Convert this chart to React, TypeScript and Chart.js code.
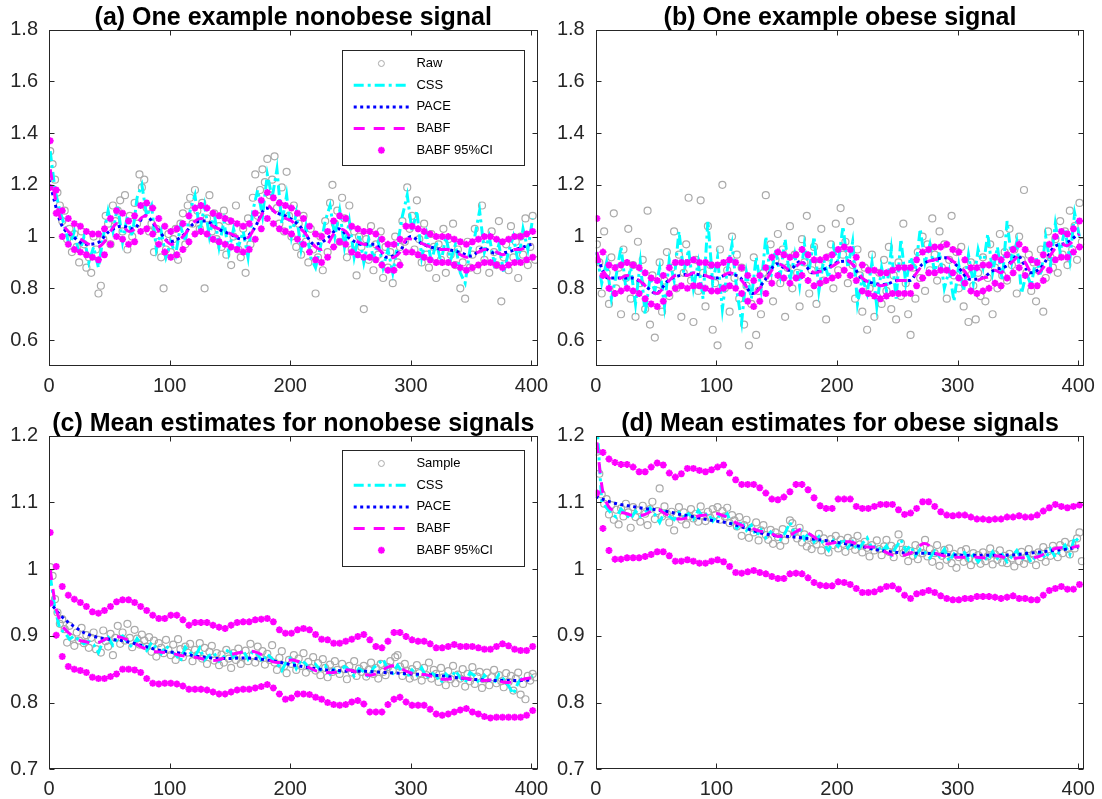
import React, { useEffect, useRef } from "react";
import { Chart, registerables } from "chart.js";

Chart.register(...registerables);

const FONT = '"Liberation Sans", Arial, Helvetica, sans-serif';
const MAG = "#ff00ff";
const CYAN = "#00ffff";
const BLUE = "#0000ff";
const GRAY = "#aaaaaa";
const AXIS = "#262626";

const X_TICKS = [0, 100, 200, 300, 400];
const Y_TICKS_TOP = [0.6, 0.8, 1.0, 1.2, 1.4, 1.6, 1.8];
const Y_TICKS_BOTTOM = [0.7, 0.8, 0.9, 1.0, 1.1, 1.2];

// sample positions (time index)
const rawX = Array.from({ length: 202 }, (_, i) => 1 + 2 * i);
const cssX = Array.from({ length: 101 }, (_, i) => 1 + 4 * i);
const babfX = Array.from({ length: 81 }, (_, i) => 1 + 5 * i);
const paceX = Array.from({ length: 41 }, (_, i) => 10 * i);

// ---------- (a) nonobese example signal ----------
const aRaw = [
  1.33, 1.28, 1.22, 1.17, 1.12, 1.06, 1.10, 0.99, 1.03, 0.94,
  1.01, 0.96, 0.90, 1.02, 0.97, 0.88, 0.92, 0.86, 1.00, 0.95,
  0.78, 0.81, 0.99, 1.08, 1.05, 0.97, 1.12, 1.06, 1.10, 1.14,
  1.02, 1.16, 0.95, 1.08, 1.00, 1.13, 1.05, 1.24, 1.19, 1.22,
  1.11, 1.02, 1.05, 0.94, 1.03, 0.98, 0.92, 0.80, 0.95, 1.01,
  0.94, 0.99, 1.03, 0.91, 1.05, 1.09, 0.97, 1.12, 1.15, 1.05,
  1.18, 1.10, 1.03, 1.13, 0.80, 1.07, 1.16, 1.02, 1.09, 0.99,
  1.04, 0.96, 1.10, 0.93, 1.06, 0.89, 1.00, 1.12, 0.95, 0.92,
  1.03, 0.86, 1.07, 0.97, 1.15, 1.24, 1.08, 1.18, 1.26, 1.21,
  1.30, 1.16, 1.22, 1.31, 1.11, 1.05, 1.19, 1.02, 1.25, 1.08,
  1.00, 1.12, 0.96, 1.05, 0.93, 1.08, 0.98, 0.90, 1.03, 0.95,
  0.78, 0.92, 1.00, 0.87, 1.06, 0.94, 1.13, 1.20, 1.05, 1.10,
  0.98, 1.15, 1.07, 0.92, 1.12, 0.95, 1.02, 0.85, 1.00, 0.96,
  0.72, 0.99, 0.91, 1.04, 0.87, 0.97, 0.93, 1.02, 0.84, 0.96,
  0.88, 0.94, 0.82, 1.00, 0.90, 0.96, 1.06, 0.98, 1.19, 1.03,
  1.08, 0.95, 1.14, 0.99, 0.90, 1.05, 0.93, 0.88, 1.01, 0.96,
  0.84, 0.97, 0.91, 1.03, 0.86, 0.99, 0.93, 1.05, 0.89, 0.95,
  0.80, 0.90, 0.76, 0.98, 0.88, 0.93, 1.03, 0.87, 0.95, 1.12,
  0.91, 0.99, 0.86, 1.02, 0.94, 0.89, 1.06, 0.75, 0.92, 0.97,
  0.87, 1.04, 0.92, 0.98, 0.84, 1.00, 0.93, 1.07, 0.89, 0.96,
  1.08, 0.91,
];
const aCss = [
  1.33, 1.18, 1.10, 1.04, 0.96, 1.02, 0.93, 1.00, 0.90, 0.96,
  0.88, 1.00, 1.10, 1.02, 1.12, 0.98, 1.08, 1.00, 1.15, 1.20,
  1.08, 1.12, 0.95, 1.02, 0.92, 0.98, 0.93, 1.04, 0.98, 1.10,
  1.16, 1.02, 1.12, 1.00, 1.09, 0.96, 1.06, 0.94, 1.03, 0.96,
  1.02, 0.92, 1.10, 1.18, 1.08, 1.24, 1.15, 1.26, 1.05, 1.16,
  1.00, 1.09, 0.95, 1.04, 0.92, 0.88, 0.96, 1.06, 1.12, 1.00,
  1.10, 0.96, 1.06, 0.92, 1.01, 0.90, 0.99, 0.92, 0.98, 0.88,
  0.95, 0.86, 0.97, 1.08, 1.16, 1.02, 1.10, 0.92, 1.01, 0.90,
  0.98, 0.90, 1.00, 0.91, 0.97, 0.86, 0.82, 0.95, 1.00, 1.10,
  0.94, 1.00, 0.90, 0.97, 0.86, 0.94, 1.00, 0.90, 1.03, 0.95,
  1.07,
];
const aBabf = [
  1.26, 1.13, 1.05, 1.02, 1.00, 0.99, 0.975, 0.965, 0.96, 0.98,
  1.02, 1.05, 1.04, 1.02, 1.03, 1.07, 1.08, 1.06, 1.02, 0.99,
  0.97, 0.98, 1.00, 1.03, 1.06, 1.07, 1.06, 1.04, 1.03, 1.02,
  1.01, 1.00, 0.99, 1.00, 1.04, 1.08, 1.12, 1.10, 1.08, 1.07,
  1.06, 1.04, 1.02, 0.99, 0.96, 0.95, 0.97, 1.01, 1.03, 1.02,
  0.99, 0.98, 0.97, 0.97, 0.96, 0.94, 0.92, 0.92, 0.94, 0.99,
  0.99, 0.98, 0.97, 0.96, 0.95, 0.95, 0.95, 0.94, 0.93, 0.92,
  0.93, 0.94, 0.95, 0.95, 0.94, 0.93, 0.94, 0.95, 0.95, 0.96,
  0.97,
];
const aCiUp = [
  1.37, 1.18, 1.10, 1.07, 1.05, 1.04, 1.02, 1.01, 1.01, 1.03,
  1.07, 1.10, 1.09, 1.06, 1.08, 1.12, 1.13, 1.11, 1.07, 1.04,
  1.02, 1.03, 1.05, 1.08, 1.11, 1.12, 1.11, 1.09, 1.08, 1.07,
  1.06, 1.05, 1.04, 1.05, 1.09, 1.14, 1.17, 1.15, 1.13, 1.12,
  1.11, 1.09, 1.07, 1.04, 1.01, 1.00, 1.02, 1.06, 1.08, 1.07,
  1.04, 1.03, 1.02, 1.02, 1.01, 0.99, 0.97, 0.97, 0.99, 1.04,
  1.04, 1.03, 1.02, 1.01, 1.00, 1.00, 1.00, 0.99, 0.98, 0.97,
  0.98, 0.99, 1.00, 1.00, 0.99, 0.98, 0.99, 1.00, 1.00, 1.01,
  1.02,
];
const aCiLo = [
  1.19, 1.09, 1.00, 0.97, 0.95, 0.94, 0.93, 0.92, 0.91, 0.93,
  0.97, 1.00, 0.99, 0.97, 0.98, 1.02, 1.03, 1.01, 0.97, 0.94,
  0.92, 0.93, 0.95, 0.98, 1.01, 1.02, 1.01, 0.99, 0.98, 0.97,
  0.96, 0.95, 0.94, 0.95, 0.99, 1.03, 1.07, 1.05, 1.03, 1.02,
  1.01, 0.99, 0.97, 0.94, 0.91, 0.90, 0.92, 0.96, 0.98, 0.97,
  0.94, 0.93, 0.92, 0.92, 0.91, 0.89, 0.87, 0.87, 0.89, 0.94,
  0.94, 0.93, 0.92, 0.91, 0.90, 0.90, 0.90, 0.89, 0.88, 0.87,
  0.88, 0.89, 0.90, 0.90, 0.89, 0.88, 0.89, 0.90, 0.90, 0.91,
  0.92,
];
const aPace = [
  1.22, 1.05, 1.00, 0.97, 0.975, 1.02, 1.04, 1.03, 1.08, 1.03,
  0.98, 1.00, 1.05, 1.06, 1.03, 1.01, 0.99, 1.03, 1.11, 1.09,
  1.07, 1.03, 0.97, 0.99, 1.03, 0.99, 0.97, 0.97, 0.92, 0.94,
  1.00, 0.97, 0.955, 0.95, 0.94, 0.925, 0.955, 0.935, 0.94, 0.955,
  0.97,
];

// ---------- (b) obese example signal ----------
const bRaw = [
  0.97, 0.90, 0.78, 1.02, 0.86, 0.74, 0.92, 1.09, 0.80, 0.88,
  0.70, 0.95, 0.84, 1.03, 0.76, 0.89, 0.69, 0.98, 0.82, 0.91,
  0.72, 1.10, 0.66, 0.85, 0.61, 0.79, 0.90, 0.71, 0.83, 0.94,
  0.77, 0.88, 1.02, 0.80, 0.93, 0.69, 0.86, 0.97, 1.15, 0.83,
  0.67, 0.91, 0.79, 1.14, 0.86, 0.73, 1.04, 0.89, 0.64, 0.82,
  0.58, 0.95, 1.20, 0.80, 0.87, 0.71, 1.00, 0.84, 0.93, 0.76,
  0.88, 0.66, 0.81, 0.58, 0.74, 0.92, 0.62, 0.79, 0.70, 0.86,
  1.16, 0.84, 0.97, 0.75, 0.91, 1.01, 0.82, 0.95, 0.69, 0.88,
  1.04, 0.80, 0.93, 0.86, 0.73, 0.99, 0.90, 1.08, 0.78, 0.87,
  0.96, 0.74, 0.89, 1.03, 0.83, 0.68, 0.92, 0.97, 0.80, 1.05,
  0.87, 1.11, 0.93, 0.98, 0.82, 1.06, 0.89, 0.76, 0.95, 0.85,
  0.71, 0.88, 0.64, 0.80, 0.93, 0.69, 0.77, 0.86, 0.74, 0.91,
  0.79, 0.96, 0.72, 0.85, 0.68, 0.90, 0.77, 1.05, 0.82, 0.70,
  0.62, 0.88, 0.76, 0.94, 0.84, 1.00, 0.79, 0.97, 0.87, 1.07,
  0.93, 0.83, 1.02, 0.88, 0.97, 0.76, 0.91, 1.08, 0.85, 0.94,
  0.80, 0.96, 0.73, 0.87, 0.67, 0.90, 0.81, 0.68, 0.86, 0.77,
  0.92, 0.75, 0.84, 0.97, 0.70, 0.88, 0.80, 1.01, 0.85, 0.94,
  0.83, 1.03, 0.89, 0.95, 0.78, 1.00, 0.91, 1.18, 0.86, 0.93,
  0.79, 0.90, 0.75, 0.87, 0.95, 0.71, 0.84, 1.02, 0.92, 0.88,
  0.99, 0.86, 1.06, 0.93, 1.02, 0.89, 1.10, 0.95, 1.04, 0.91,
  1.13, 0.98,
];
const bCss = [
  0.93, 0.82, 0.90, 0.76, 0.85, 0.96, 0.80, 0.88, 0.74, 0.90,
  0.70, 0.84, 0.79, 0.88, 0.73, 0.91, 0.83, 1.02, 0.86, 0.95,
  0.80, 0.90, 0.76, 1.06, 0.82, 0.92, 0.72, 0.87, 0.97, 0.79,
  0.67, 0.86, 0.76, 0.92, 0.80, 1.00, 0.84, 0.95, 0.85, 0.99,
  0.83, 0.93, 0.81, 0.97, 0.87, 1.00, 0.79, 0.91, 0.84, 0.96,
  0.90, 1.04, 0.88, 0.98, 0.74, 0.84, 0.78, 0.90, 0.73, 0.88,
  0.79, 0.95, 0.76, 0.99, 0.82, 0.92, 0.87, 1.03, 0.90, 0.97,
  0.86, 0.94, 0.80, 0.87, 0.75, 0.89, 0.79, 0.93, 0.82, 0.95,
  0.88, 1.01, 0.86, 0.96, 0.83, 1.06, 0.90, 0.98, 0.78, 0.86,
  0.81, 0.92, 0.85, 1.00, 0.89, 1.05, 0.94, 1.03, 0.91, 1.09,
  1.00,
];
const bBabf = [
  0.94, 0.87, 0.84, 0.83, 0.84, 0.85, 0.84, 0.83, 0.81, 0.79,
  0.78, 0.80, 0.83, 0.85, 0.855, 0.85, 0.86, 0.855, 0.85, 0.84,
  0.84, 0.85, 0.86, 0.85, 0.83, 0.80, 0.78, 0.80, 0.83, 0.87,
  0.895, 0.885, 0.87, 0.885, 0.90, 0.88, 0.86, 0.865, 0.875, 0.885,
  0.90, 0.915, 0.90, 0.875, 0.84, 0.825, 0.82, 0.81, 0.815, 0.825,
  0.83, 0.83, 0.83, 0.86, 0.89, 0.905, 0.91, 0.915, 0.92, 0.905,
  0.89, 0.865, 0.835, 0.83, 0.84, 0.845, 0.87, 0.86, 0.885, 0.905,
  0.925, 0.90, 0.86, 0.855, 0.88, 0.92, 0.955, 0.97, 0.965, 0.985,
  1.01,
];
const bCiUp = [
  1.07, 0.94, 0.89, 0.88, 0.89, 0.90, 0.89, 0.88, 0.86, 0.84,
  0.83, 0.85, 0.88, 0.90, 0.90, 0.90, 0.91, 0.90, 0.90, 0.89,
  0.89, 0.90, 0.91, 0.90, 0.88, 0.85, 0.83, 0.85, 0.88, 0.92,
  0.94, 0.93, 0.92, 0.93, 0.95, 0.93, 0.91, 0.91, 0.92, 0.93,
  0.95, 0.96, 0.95, 0.92, 0.89, 0.87, 0.87, 0.86, 0.86, 0.87,
  0.88, 0.88, 0.88, 0.91, 0.94, 0.95, 0.96, 0.96, 0.97, 0.95,
  0.94, 0.91, 0.88, 0.88, 0.89, 0.89, 0.92, 0.91, 0.93, 0.95,
  0.97, 0.95, 0.91, 0.90, 0.93, 0.97, 1.00, 1.02, 1.01, 1.03,
  1.06,
];
const bCiLo = [
  0.91, 0.85, 0.80, 0.78, 0.79, 0.80, 0.79, 0.78, 0.76, 0.74,
  0.73, 0.75, 0.78, 0.80, 0.81, 0.80, 0.81, 0.81, 0.80, 0.79,
  0.79, 0.80, 0.81, 0.80, 0.78, 0.75, 0.73, 0.75, 0.78, 0.82,
  0.85, 0.84, 0.82, 0.84, 0.85, 0.83, 0.81, 0.82, 0.83, 0.84,
  0.85, 0.87, 0.85, 0.83, 0.79, 0.78, 0.77, 0.76, 0.77, 0.78,
  0.78, 0.78, 0.78, 0.81, 0.84, 0.86, 0.86, 0.87, 0.87, 0.86,
  0.84, 0.82, 0.79, 0.78, 0.79, 0.80, 0.82, 0.81, 0.84, 0.86,
  0.88, 0.85, 0.81, 0.81, 0.83, 0.87, 0.91, 0.92, 0.92, 0.94,
  0.96,
];
const bPace = [
  0.94, 0.84, 0.84, 0.84, 0.815, 0.78, 0.83, 0.85, 0.855, 0.85,
  0.84, 0.855, 0.84, 0.78, 0.83, 0.895, 0.87, 0.905, 0.86, 0.875,
  0.90, 0.905, 0.84, 0.82, 0.815, 0.83, 0.83, 0.89, 0.91, 0.918,
  0.885, 0.835, 0.84, 0.87, 0.885, 0.925, 0.86, 0.885, 0.96, 0.975,
  1.01,
];

// ---------- (c) mean estimates, nonobese ----------
const cRaw = [
  1.003, 0.99, 0.955, 0.935, 0.918, 0.925, 0.91, 0.89, 0.915, 0.897,
  0.885, 0.905, 0.893, 0.912, 0.889, 0.901, 0.882, 0.897, 0.905, 0.88,
  0.894, 0.875, 0.908, 0.892, 0.884, 0.903, 0.871, 0.897, 0.915, 0.888,
  0.905, 0.893, 0.918, 0.897, 0.883, 0.909, 0.896, 0.887, 0.902, 0.893,
  0.884, 0.898, 0.876, 0.893, 0.869, 0.889, 0.882, 0.874, 0.894, 0.879,
  0.871, 0.887, 0.864, 0.895, 0.88, 0.868, 0.884, 0.875, 0.888, 0.862,
  0.879, 0.871, 0.889, 0.866, 0.882, 0.858, 0.876, 0.885, 0.863, 0.874,
  0.856, 0.872, 0.86, 0.879, 0.866, 0.852, 0.874, 0.864, 0.881, 0.858,
  0.869, 0.878, 0.862, 0.888, 0.871, 0.86, 0.884, 0.867, 0.877, 0.857,
  0.873, 0.864, 0.886, 0.86, 0.849, 0.867, 0.877, 0.855, 0.844, 0.864,
  0.858, 0.871, 0.849, 0.866, 0.855, 0.874, 0.845, 0.861, 0.852, 0.868,
  0.848, 0.859, 0.841, 0.865, 0.852, 0.838, 0.857, 0.846, 0.862, 0.849,
  0.843, 0.858, 0.85, 0.835, 0.855, 0.845, 0.862, 0.84, 0.851, 0.846,
  0.855, 0.839, 0.849, 0.86, 0.843, 0.852, 0.836, 0.858, 0.846, 0.841,
  0.853, 0.862, 0.848, 0.868, 0.871, 0.854, 0.84, 0.858, 0.847, 0.836,
  0.85, 0.839, 0.856, 0.844, 0.833, 0.852, 0.841, 0.86, 0.836, 0.849,
  0.843, 0.831, 0.852, 0.838, 0.826, 0.847, 0.835, 0.855, 0.829, 0.842,
  0.836, 0.85, 0.824, 0.843, 0.832, 0.853, 0.828, 0.839, 0.846, 0.822,
  0.835, 0.845, 0.826, 0.838, 0.849, 0.829, 0.841, 0.832, 0.823, 0.844,
  0.831, 0.84, 0.818, 0.836, 0.845, 0.812, 0.828, 0.805, 0.84, 0.833,
  0.843, 0.838,
];
const cCss = [
  0.99, 0.94, 0.91, 0.905, 0.895, 0.90, 0.893, 0.888, 0.892, 0.887,
  0.875, 0.893, 0.898, 0.886, 0.896, 0.90, 0.89, 0.883, 0.896, 0.886,
  0.878, 0.89, 0.882, 0.873, 0.885, 0.877, 0.872, 0.862, 0.883, 0.875,
  0.869, 0.882, 0.864, 0.871, 0.874, 0.862, 0.869, 0.881, 0.868, 0.873,
  0.878, 0.865, 0.877, 0.872, 0.861, 0.873, 0.865, 0.859, 0.848, 0.862,
  0.868, 0.851, 0.864, 0.858, 0.846, 0.857, 0.849, 0.855, 0.843, 0.852,
  0.846, 0.854, 0.849, 0.84, 0.851, 0.846, 0.838, 0.852, 0.858, 0.865,
  0.85, 0.844, 0.856, 0.846, 0.838, 0.849, 0.841, 0.852, 0.837, 0.845,
  0.84, 0.83, 0.843, 0.836, 0.848, 0.837, 0.83, 0.845, 0.84, 0.828,
  0.841, 0.834, 0.829, 0.842, 0.835, 0.825, 0.813, 0.83, 0.838, 0.835,
  0.84,
];
const cBabf = [
  1.00, 0.94, 0.915, 0.905, 0.898, 0.893, 0.891, 0.889, 0.89, 0.894,
  0.898, 0.899, 0.897, 0.893, 0.889, 0.884, 0.88, 0.877, 0.876, 0.875,
  0.874, 0.872, 0.87, 0.869, 0.868, 0.866, 0.864, 0.863, 0.864, 0.868,
  0.872, 0.874, 0.876, 0.877, 0.876, 0.872, 0.866, 0.861, 0.86, 0.862,
  0.864, 0.862, 0.858, 0.852, 0.848, 0.846, 0.845, 0.845, 0.847, 0.849,
  0.848, 0.845, 0.842, 0.841, 0.843, 0.848, 0.853, 0.855, 0.852, 0.847,
  0.844, 0.843, 0.842, 0.84, 0.837, 0.835, 0.835, 0.836, 0.837, 0.836,
  0.834, 0.833, 0.833, 0.834, 0.833, 0.831, 0.83, 0.832, 0.834, 0.836,
  0.837,
];
const cCiUp = [
  1.055, 1.004, 0.974, 0.961, 0.955, 0.95, 0.944, 0.936, 0.934, 0.938,
  0.944, 0.951, 0.954, 0.954, 0.95, 0.944, 0.938, 0.931, 0.926, 0.926,
  0.931, 0.931, 0.924, 0.916, 0.92, 0.92, 0.92, 0.916, 0.913, 0.911,
  0.916, 0.92, 0.921, 0.921, 0.924, 0.925, 0.926, 0.921, 0.909, 0.904,
  0.904, 0.909, 0.911, 0.909, 0.902, 0.895, 0.894, 0.889, 0.889, 0.892,
  0.895, 0.899, 0.902, 0.894, 0.884, 0.882, 0.892, 0.905, 0.905, 0.899,
  0.894, 0.892, 0.892, 0.888, 0.882, 0.882, 0.884, 0.887, 0.884, 0.884,
  0.884, 0.882, 0.88, 0.88, 0.884, 0.888, 0.885, 0.88, 0.878, 0.878,
  0.884,
];
const cCiLo = [
  0.949, 0.901, 0.869, 0.854, 0.85, 0.848, 0.845, 0.838, 0.836, 0.836,
  0.839, 0.843, 0.85, 0.85, 0.849, 0.845, 0.836, 0.829, 0.828, 0.829,
  0.829, 0.828, 0.825, 0.82, 0.82, 0.82, 0.819, 0.816, 0.813, 0.813,
  0.816, 0.819, 0.82, 0.82, 0.822, 0.824, 0.827, 0.822, 0.813, 0.805,
  0.807, 0.813, 0.813, 0.812, 0.808, 0.805, 0.8, 0.797, 0.796, 0.797,
  0.801, 0.803, 0.798, 0.786, 0.786, 0.786, 0.797, 0.805, 0.808, 0.801,
  0.796, 0.796, 0.796, 0.79, 0.783, 0.781, 0.783, 0.786, 0.789, 0.791,
  0.786, 0.783, 0.779, 0.777, 0.778, 0.778, 0.778, 0.778, 0.778, 0.781,
  0.788,
];
const cPace = [
  0.952, 0.93, 0.915, 0.904, 0.898, 0.895, 0.893, 0.889, 0.884, 0.879,
  0.876, 0.874, 0.87, 0.868, 0.866, 0.866, 0.867, 0.866, 0.864, 0.861,
  0.857, 0.854, 0.851, 0.849, 0.848, 0.847, 0.847, 0.846, 0.845, 0.844,
  0.843, 0.842, 0.841, 0.839, 0.837, 0.835, 0.834, 0.833, 0.833, 0.833,
  0.834,
];

// ---------- (d) mean estimates, obese ----------
const dRaw = [
  1.176, 1.143, 1.112, 1.098, 1.105, 1.082, 1.096, 1.074, 1.089, 1.067,
  1.091, 1.079, 1.098, 1.085, 1.062, 1.093, 1.078, 1.088, 1.071, 1.095,
  1.083, 1.066, 1.09, 1.101, 1.075, 1.087, 1.121, 1.079, 1.094, 1.083,
  1.07, 1.086, 1.058, 1.081, 1.093, 1.074, 1.085, 1.067, 1.079, 1.09,
  1.076, 1.083, 1.071, 1.094, 1.08, 1.072, 1.086, 1.077, 1.09, 1.081,
  1.093, 1.074, 1.087, 1.079, 1.092, 1.069, 1.081, 1.073, 1.064, 1.078,
  1.05, 1.066, 1.074, 1.047, 1.062, 1.055, 1.07, 1.043, 1.058, 1.066,
  1.051, 1.044, 1.059, 1.038, 1.055, 1.048, 1.035, 1.06, 1.043, 1.052,
  1.073, 1.069, 1.056, 1.046, 1.062, 1.04, 1.052, 1.034, 1.047, 1.03,
  1.043, 1.037, 1.053, 1.028, 1.046, 1.039, 1.025, 1.045, 1.036, 1.05,
  1.031, 1.044, 1.038, 1.026, 1.047, 1.035, 1.042, 1.029, 1.05, 1.037,
  1.025, 1.041, 1.032, 1.019, 1.036, 1.028, 1.043, 1.03, 1.021, 1.034,
  1.044, 1.026, 1.035, 1.018, 1.031, 1.052, 1.039, 1.024, 1.029, 1.012,
  1.027, 1.02, 1.036, 1.015, 1.032, 1.024, 1.044, 1.019, 1.03, 1.011,
  1.024, 1.036, 1.005, 1.02, 1.029, 1.014, 1.031, 1.009, 1.023, 1.002,
  1.018, 1.027, 1.011, 1.03, 1.016, 1.006, 1.024, 1.013, 1.021, 1.008,
  1.025, 1.012, 1.019, 1.031, 1.007, 1.022, 1.014, 1.028, 1.01, 1.02,
  1.009, 1.023, 1.016, 1.004, 1.021, 1.012, 1.026, 1.008, 1.017, 1.03,
  1.014, 1.022, 1.006, 1.025, 1.018, 1.033, 1.011, 1.027, 1.02, 1.035,
  1.028, 1.018, 1.036, 1.024, 1.041, 1.03, 1.022, 1.038, 1.031, 1.046,
  1.055, 1.012,
];
const dCss = [
  1.22, 1.10, 1.092, 1.083, 1.078, 1.09, 1.082, 1.075, 1.087, 1.079,
  1.085, 1.092, 1.082, 1.07, 1.086, 1.079, 1.074, 1.085, 1.078, 1.083,
  1.075, 1.088, 1.078, 1.084, 1.072, 1.081, 1.076, 1.083, 1.066, 1.061,
  1.072, 1.058, 1.066, 1.05, 1.059, 1.047, 1.056, 1.05, 1.044, 1.054,
  1.07, 1.053, 1.062, 1.045, 1.055, 1.041, 1.049, 1.037, 1.028, 1.043,
  1.034, 1.046, 1.032, 1.041, 1.028, 1.038, 1.047, 1.031, 1.036, 1.026,
  1.035, 1.021, 1.033, 1.044, 1.028, 1.035, 1.02, 1.03, 1.025, 1.017,
  1.027, 1.019, 1.03, 1.012, 1.023, 1.016, 1.027, 1.014, 1.021, 1.011,
  1.02, 1.013, 1.026, 1.016, 1.022, 1.011, 1.019, 1.028, 1.014, 1.023,
  1.01, 1.02, 1.025, 1.016, 1.03, 1.018, 1.027, 1.036, 1.022, 1.048,
  1.04,
];
const dBabf = [
  1.19, 1.115, 1.093, 1.087, 1.085, 1.083, 1.08, 1.08, 1.082, 1.087,
  1.091, 1.085, 1.08, 1.076, 1.075, 1.077, 1.078, 1.08, 1.081, 1.082,
  1.083, 1.08, 1.077, 1.07, 1.066, 1.062, 1.06, 1.057, 1.056, 1.053,
  1.049, 1.05, 1.051, 1.056, 1.06, 1.054, 1.048, 1.042, 1.038, 1.039,
  1.041, 1.041, 1.041, 1.038, 1.034, 1.033, 1.033, 1.03, 1.025, 1.021,
  1.021, 1.021, 1.024, 1.03, 1.038, 1.036, 1.025, 1.021, 1.019, 1.018,
  1.018, 1.018, 1.018, 1.018, 1.017, 1.017, 1.02, 1.019, 1.016, 1.016,
  1.017, 1.017, 1.018, 1.018, 1.022, 1.026, 1.031, 1.032, 1.031, 1.033,
  1.035,
];
const dCiUp = [
  1.29, 1.175, 1.165, 1.16, 1.157, 1.157, 1.153, 1.146, 1.146, 1.153,
  1.159, 1.156, 1.144, 1.138, 1.143, 1.151, 1.151, 1.148, 1.146, 1.149,
  1.153, 1.156, 1.144, 1.134, 1.127, 1.127, 1.127, 1.122, 1.114, 1.105,
  1.104, 1.108, 1.116, 1.127, 1.127, 1.119, 1.107, 1.095, 1.091, 1.091,
  1.105, 1.105, 1.105, 1.094, 1.091, 1.091, 1.094, 1.097, 1.097, 1.097,
  1.089, 1.082, 1.084, 1.091, 1.101, 1.101, 1.094, 1.086, 1.081, 1.08,
  1.081, 1.081, 1.078, 1.075, 1.075, 1.074, 1.075, 1.075, 1.078, 1.078,
  1.08, 1.078, 1.078, 1.081, 1.087, 1.092, 1.097, 1.094, 1.092, 1.094,
  1.096,
];
const dCiLo = [
  1.114, 1.061, 1.028, 1.015, 1.015, 1.017, 1.017, 1.017, 1.019, 1.022,
  1.026, 1.026, 1.02, 1.012, 1.012, 1.014, 1.012, 1.009, 1.009, 1.012,
  1.014, 1.011, 1.004, 0.995, 0.994, 0.996, 0.998, 0.995, 0.993, 0.989,
  0.986, 0.986, 0.993, 0.994, 0.993, 0.987, 0.98, 0.976, 0.975, 0.975,
  0.981, 0.98, 0.977, 0.971, 0.965, 0.965, 0.966, 0.97, 0.974, 0.975,
  0.97, 0.961, 0.956, 0.963, 0.965, 0.968, 0.965, 0.96, 0.956, 0.954,
  0.954, 0.956, 0.956, 0.959, 0.959, 0.959, 0.958, 0.956, 0.958, 0.96,
  0.956, 0.956, 0.954, 0.954, 0.961, 0.968, 0.971, 0.974, 0.97, 0.97,
  0.977,
];
const dPace = [
  1.109, 1.102, 1.097, 1.094, 1.091, 1.089, 1.086, 1.082, 1.079, 1.075,
  1.072, 1.069, 1.064, 1.058, 1.053, 1.05, 1.049, 1.047, 1.045, 1.043,
  1.04, 1.037, 1.034, 1.03, 1.027, 1.025, 1.024, 1.024, 1.023, 1.022,
  1.021, 1.021, 1.021, 1.021, 1.021, 1.022, 1.024, 1.026, 1.028, 1.03,
  1.033,
];

const pts = (xs: number[], ys: number[]) =>
  ys.map((y, i) => ({ x: xs[i], y }));

const fmt = (v: number) => String(Math.round(v * 10) / 10);

const decorPlugin = {
  id: "decor",
  afterDraw(chart: any, _args: any, opts: any) {
    const { ctx, chartArea: a } = chart;
    const xs = chart.scales.x;
    const ys = chart.scales.y;
    ctx.save();
    ctx.setLineDash([]);
    ctx.strokeStyle = AXIS;
    ctx.lineWidth = 1;
    const L = Math.round(a.left) + 0.5;
    const R = Math.round(a.right) - 0.5;
    const T = Math.round(a.top) + 0.5;
    const B = Math.round(a.bottom) - 0.5;
    ctx.beginPath();
    for (const t of xs.ticks) {
      const p = Math.round(xs.getPixelForValue(t.value)) + 0.5;
      ctx.moveTo(p, B);
      ctx.lineTo(p, B - 5);
      ctx.moveTo(p, T);
      ctx.lineTo(p, T + 5);
    }
    for (const t of ys.ticks) {
      const p = Math.round(ys.getPixelForValue(t.value)) + 0.5;
      ctx.moveTo(L, p);
      ctx.lineTo(L + 5, p);
      ctx.moveTo(R, p);
      ctx.lineTo(R - 5, p);
    }
    ctx.stroke();
    ctx.strokeRect(L, T, R - L, B - T);

    // title
    ctx.fillStyle = "#000";
    ctx.font = `bold 25px ${FONT}`;
    ctx.textAlign = "center";
    ctx.textBaseline = "alphabetic";
    ctx.fillText(opts.title, (a.left + a.right) / 2, a.top - 5);

    // legend
    const lg = opts.legend;
    if (lg) {
      const bx = Math.round(lg.x) + 0.5;
      const by = Math.round(lg.y) + 0.5;
      ctx.fillStyle = "#fff";
      ctx.fillRect(bx, by, lg.w, lg.h);
      ctx.strokeStyle = AXIS;
      ctx.lineWidth = 1;
      ctx.strokeRect(bx, by, lg.w, lg.h);
      lg.items.forEach((it: any, i: number) => {
        const cy = lg.y + 13.5 + i * 21.7;
        ctx.save();
        if (it.kind === "line") {
          ctx.strokeStyle = it.color;
          ctx.lineWidth = 3;
          ctx.setLineDash(it.dash);
          ctx.beginPath();
          ctx.moveTo(lg.x + 11.7, cy);
          ctx.lineTo(lg.x + 67.7, cy);
          ctx.stroke();
        } else if (it.kind === "circle") {
          ctx.strokeStyle = it.color;
          ctx.lineWidth = 1;
          ctx.beginPath();
          ctx.arc(lg.x + 39.4, cy, 3, 0, Math.PI * 2);
          ctx.stroke();
        } else {
          ctx.strokeStyle = it.color;
          ctx.lineWidth = 2;
          ctx.beginPath();
          for (let k = 0; k < 4; k++) {
            const ang = (k * Math.PI) / 4;
            const dx = Math.cos(ang) * 3.5;
            const dy = Math.sin(ang) * 3.5;
            ctx.moveTo(lg.x + 39.4 - dx, cy - dy);
            ctx.lineTo(lg.x + 39.4 + dx, cy + dy);
          }
          ctx.stroke();
        }
        ctx.restore();
        ctx.fillStyle = "#000";
        ctx.font = `13px ${FONT}`;
        ctx.textAlign = "left";
        ctx.textBaseline = "middle";
        ctx.fillText(it.label, lg.x + 74.4, cy);
      });
    }
    ctx.restore();
  },
};

const CSS_DASH = [10, 4, 3, 4];
const PACE_DASH = [3, 3.5];
const BABF_DASH = [11, 9];

type PanelCfg = {
  title: string;
  yMin: number;
  yMax: number;
  yTicks: number[];
  raw: number[];
  css: number[];
  pace: number[];
  babf: number[];
  ciUp: number[];
  ciLo: number[];
  rawLabel?: string;
  legendBox?: { x: number; y: number; w: number; h: number };
};

function Panel(props: {
  cfg: PanelCfg;
  left: number;
  top: number;
  width: number;
  height: number;
  area: { l: number; r: number; t: number; b: number };
}) {
  const { cfg, left, top, width, height, area } = props;
  const ref = useRef<HTMLCanvasElement>(null);

  useEffect(() => {
    const legend = cfg.legendBox
      ? {
          ...cfg.legendBox,
          items: [
            { label: cfg.rawLabel, kind: "circle", color: GRAY },
            { label: "CSS", kind: "line", color: CYAN, dash: CSS_DASH },
            { label: "PACE", kind: "line", color: BLUE, dash: PACE_DASH },
            { label: "BABF", kind: "line", color: MAG, dash: BABF_DASH },
            { label: "BABF 95%CI", kind: "star", color: MAG },
          ],
        }
      : null;

    const tickFont = { family: FONT, size: 20 };
    const chart = new Chart(ref.current as HTMLCanvasElement, {
      type: "scatter",
      data: {
        datasets: [
          {
            label: "BABF 95%CI upper",
            data: pts(babfX, cfg.ciUp),
            showLine: false,
            pointStyle: "star",
            pointRadius: 3.5,
            pointBorderWidth: 2,
            borderColor: MAG,
            backgroundColor: MAG,
            order: 1,
          },
          {
            label: "BABF 95%CI lower",
            data: pts(babfX, cfg.ciLo),
            showLine: false,
            pointStyle: "star",
            pointRadius: 3.5,
            pointBorderWidth: 2,
            borderColor: MAG,
            backgroundColor: MAG,
            order: 1,
          },
          {
            label: "BABF",
            data: pts(babfX, cfg.babf),
            showLine: true,
            borderColor: MAG,
            borderWidth: 3,
            borderDash: BABF_DASH,
            pointRadius: 0,
            tension: 0.3,
            order: 2,
          },
          {
            label: "PACE",
            data: pts(paceX, cfg.pace),
            showLine: true,
            borderColor: BLUE,
            borderWidth: 3,
            borderDash: PACE_DASH,
            pointRadius: 0,
            cubicInterpolationMode: "monotone",
            order: 3,
          },
          {
            label: "CSS",
            data: pts(cssX, cfg.css),
            showLine: true,
            borderColor: CYAN,
            borderWidth: 3,
            borderDash: CSS_DASH,
            pointRadius: 0,
            tension: 0,
            order: 4,
          },
          {
            label: cfg.rawLabel || "Raw",
            data: pts(rawX, cfg.raw),
            showLine: false,
            pointStyle: "circle",
            pointRadius: 3.5,
            pointBorderWidth: 1.2,
            borderColor: GRAY,
            backgroundColor: "rgba(0,0,0,0)",
            order: 5,
          },
        ],
      },
      options: {
        responsive: false,
        animation: false,
        events: [],
        layout: {
          padding: { left: 0, top: area.t, right: width - area.r, bottom: 0 },
        },
        plugins: {
          legend: { display: false },
          tooltip: { enabled: false },
          title: { display: false },
          decor: { title: cfg.title, legend },
        } as any,
        scales: {
          x: {
            type: "linear",
            min: 0,
            max: 405,
            grid: { display: false, drawTicks: false },
            border: { display: false },
            afterBuildTicks: (s: any) => {
              s.ticks = X_TICKS.map((v) => ({ value: v }));
            },
            afterFit: (s: any) => {
              s.height = height - area.b;
              s.paddingLeft = 0;
              s.paddingRight = 0;
            },
            ticks: {
              font: tickFont,
              color: AXIS,
              padding: 8,
              maxRotation: 0,
              autoSkip: false,
              callback: (v: any) => String(v),
            },
          },
          y: {
            type: "linear",
            min: cfg.yMin,
            max: cfg.yMax,
            grid: { display: false, drawTicks: false },
            border: { display: false },
            afterBuildTicks: (s: any) => {
              s.ticks = cfg.yTicks.map((v) => ({ value: v }));
            },
            afterFit: (s: any) => {
              s.width = area.l;
              s.paddingTop = 0;
              s.paddingBottom = 0;
            },
            ticks: {
              font: tickFont,
              color: AXIS,
              padding: 11,
              autoSkip: false,
              callback: (v: any) => fmt(Number(v)),
            },
          },
        },
      } as any,
      plugins: [decorPlugin as any],
    });
    return () => chart.destroy();
  }, []);

  return (
    <div style={{ position: "absolute", left, top, width, height }}>
      <canvas ref={ref} width={width} height={height} style={{ width, height, display: "block" }} />
    </div>
  );
}

const panelA: PanelCfg = {
  title: "(a) One example nonobese signal",
  yMin: 0.5, yMax: 1.8, yTicks: Y_TICKS_TOP,
  raw: aRaw, css: aCss, pace: aPace, babf: aBabf, ciUp: aCiUp, ciLo: aCiLo,
  rawLabel: "Raw",
  legendBox: { x: 342, y: 50, w: 182, h: 115 },
};
const panelB: PanelCfg = {
  title: "(b) One example obese signal",
  yMin: 0.5, yMax: 1.8, yTicks: Y_TICKS_TOP,
  raw: bRaw, css: bCss, pace: bPace, babf: bBabf, ciUp: bCiUp, ciLo: bCiLo,
};
const panelC: PanelCfg = {
  title: "(c) Mean estimates for nonobese signals",
  yMin: 0.7, yMax: 1.2, yTicks: Y_TICKS_BOTTOM,
  raw: cRaw, css: cCss, pace: cPace, babf: cBabf, ciUp: cCiUp, ciLo: cCiLo,
  rawLabel: "Sample",
  legendBox: { x: 342, y: 50, w: 182, h: 116 },
};
const panelD: PanelCfg = {
  title: "(d) Mean estimates for obese signals",
  yMin: 0.7, yMax: 1.2, yTicks: Y_TICKS_BOTTOM,
  raw: dRaw, css: dCss, pace: dPace, babf: dBabf, ciUp: dCiUp, ciLo: dCiLo,
};

export default function App() {
  const leftArea = { l: 49, r: 537.5 };
  const rightArea = { l: 44.7, r: 533.3 };
  const topRow = { t: 29.5, b: 366 };
  const botRow = { t: 35.7, b: 369.3 };
  return (
    <div
      style={{
        position: "fixed",
        left: 0,
        top: 0,
        width: 1102,
        height: 799,
        background: "#fff",
        overflow: "hidden",
      }}
    >
      <Panel cfg={panelA} left={0} top={0} width={551} height={400} area={{ ...leftArea, ...topRow }} />
      <Panel cfg={panelB} left={551} top={0} width={551} height={400} area={{ ...rightArea, ...topRow }} />
      <Panel cfg={panelC} left={0} top={400} width={551} height={399} area={{ ...leftArea, ...botRow }} />
      <Panel cfg={panelD} left={551} top={400} width={551} height={399} area={{ ...rightArea, ...botRow }} />
    </div>
  );
}
